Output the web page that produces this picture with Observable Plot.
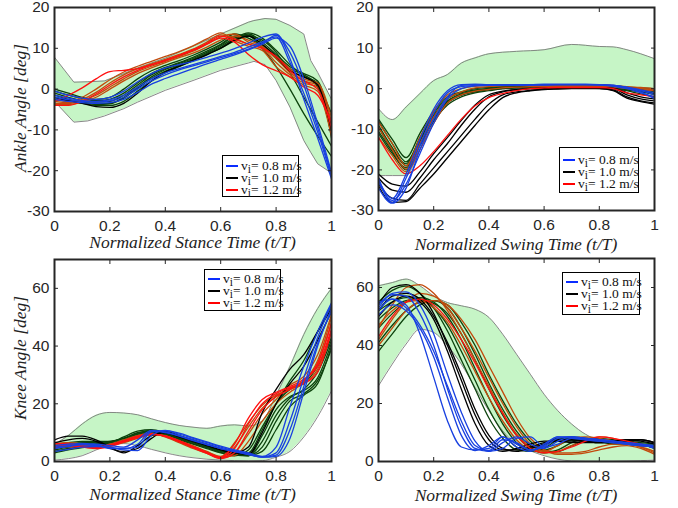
<!DOCTYPE html>
<html><head><meta charset="utf-8">
<script src="https://cdn.jsdelivr.net/npm/d3@7"></script>
<script src="https://cdn.jsdelivr.net/npm/@observablehq/plot@0.6"></script>
<style>
body{margin:0;background:#fff;}
#wrap{position:relative;width:678px;height:508px;overflow:hidden;background:#fff;}
.pl{position:absolute;}
.lg{position:absolute;box-sizing:border-box;border:1px solid #000;background:#fff;font-family:"Liberation Serif","Times New Roman",serif;font-size:13.5px;color:#111;}
.row{display:flex;align-items:center;height:12px;white-space:nowrap;}
.sw{width:12px;height:2.5px;margin-left:3px;margin-right:3px;flex:none;}
.row sub{font-size:85%;vertical-align:-3px;line-height:0;}
.ttl{position:absolute;white-space:nowrap;font-family:"Liberation Serif","Times New Roman",serif;font-style:italic;font-size:17.5px;color:#222;line-height:0.9;}
</style></head><body><div id="wrap"></div>
<script>
// ---------- data ----------
const T = [0,0.05,0.1,0.15,0.2,0.25,0.3,0.35,0.4,0.45,0.5,0.55,0.6,0.65,0.7,0.75,0.8,0.85,0.9,0.95,1];
const xTicks = [0,0.2,0.4,0.6,0.8,1];
const ankleTicks = [-30,-20,-10,0,10,20];
const kneeTicks = [0,20,40,60];
const legendSpeeds = ["0.8","1.0","1.2"];
const legendColors = ["#0a2cff","#000000","#ff0000"];

// Panel A: ankle, stance
const A_bandX = [0,0.07,0.12,0.18,0.25,0.3,0.4,0.5,0.6,0.7,0.72,0.76,0.8,0.85,0.9,0.925,0.95,1];
const A_hi = [7.8,1.7,1.8,2.0,3.8,5.2,7.6,10.5,13.5,16.4,16.8,17.3,17.1,15.6,13.5,7.0,4.1,-2.5];
const A_lo = [-3.0,-8.1,-7.8,-6.6,-4.8,-3.2,-0.3,2.1,4.6,6.4,6.8,6.0,2.1,-4.4,-12.6,-15.5,-18.3,-20.6];
const A_blue = [
 [-1.5,-2.2,-2.8,-3.0,-2.6,-1.5,0.5,2.5,4.0,5.0,6.0,7.0,8.0,9.0,10.3,11.6,12.8,6.5,-1.0,-10.5,-21.5],
 [-2.0,-2.6,-3.0,-3.2,-2.9,-2.0,0.0,2.0,3.5,4.7,5.7,6.7,7.7,8.7,9.8,11.2,13.2,9.0,1.0,-9.5,-21.0],
 [-2.5,-3.0,-3.3,-3.5,-3.3,-2.5,-0.8,1.2,2.6,3.8,5.0,6.2,7.3,8.4,9.6,11.0,12.5,10.5,2.5,-8.5,-20.5],
 [-0.5,-1.5,-2.2,-2.5,-2.0,-0.5,1.8,3.8,5.2,6.0,6.8,7.8,8.8,9.9,11.3,12.7,13.5,7.5,-2.5,-12.0,-22.0]
];
const A_green = [
 [-0.5,-1.5,-2.3,-2.8,-2.5,-1.0,1.5,3.8,5.3,6.5,7.8,9.3,11.0,13.0,13.2,10.8,8.0,5.0,3.5,1.0,-6.0],
 [-1.5,-2.5,-3.2,-3.6,-3.5,-2.0,0.5,3.0,4.8,6.0,7.2,8.6,10.2,12.2,13.5,11.5,8.5,5.5,3.8,2.0,-9.0],
 [-1.0,-2.0,-2.8,-3.2,-3.0,-1.5,1.0,3.5,5.0,6.3,7.5,9.0,10.8,12.8,13.0,10.0,5.5,0.0,-6.0,-11.5,-16.5],
 [-2.5,-3.0,-3.5,-4.0,-4.0,-3.0,-0.5,2.0,4.0,5.5,7.0,8.5,10.0,11.8,13.0,12.0,9.0,4.0,-2.0,-8.0,-14.0],
 [0.0,-1.0,-2.0,-2.5,-2.0,0.0,2.5,4.5,5.8,7.0,8.3,9.8,11.5,13.5,12.5,10.5,7.5,4.5,3.0,1.5,-12.0],
 [-2.0,-2.8,-3.4,-3.8,-3.6,-2.2,0.2,2.6,4.4,5.8,7.2,8.8,10.5,12.5,13.8,12.5,9.5,6.0,3.2,0.5,-11.0]
];
const A_orange = [
 [-3.0,-3.3,-2.5,-0.8,1.5,3.5,5.0,6.2,7.3,8.5,9.8,11.5,13.3,12.5,11.0,10.0,6.5,3.5,1.5,0.5,-8.0],
 [-3.5,-3.5,-2.8,-1.5,0.5,2.5,4.3,5.6,6.8,8.0,9.3,11.0,12.8,13.5,11.5,10.3,7.5,4.0,2.0,1.0,-10.0],
 [-2.5,-3.0,-2.0,0.0,2.3,4.2,5.6,6.8,8.0,9.2,10.6,12.3,13.8,11.8,10.5,9.5,5.5,3.0,1.0,-0.5,-11.5],
 [-3.8,-3.8,-3.2,-2.0,0.0,2.0,3.8,5.2,6.5,7.7,8.8,10.3,12.0,13.0,12.0,10.5,8.0,5.0,2.5,1.5,-7.0]
];
const A_red = [
 [-3.0,-1.5,0.3,2.5,4.3,4.6,5.0,6.0,7.0,8.2,9.5,11.0,12.5,11.5,8.5,6.0,4.5,3.0,0.5,-1.5,-8.0],
 [-4.0,-4.0,-3.0,-1.2,1.0,3.0,4.6,5.9,7.1,8.3,9.6,11.2,13.0,12.2,11.0,10.0,8.0,4.5,2.0,0.0,-9.5]
];
const A_black = [
 [-2.0,-2.8,-3.5,-4.3,-4.5,-3.5,-1.0,2.0,4.2,5.6,7.0,8.4,10.0,12.0,13.0,11.0,8.0,4.5,3.0,1.0,-10.0]
];

// Panel B: ankle, swing
const B_bandX = [0,0.05,0.1,0.15,0.2,0.25,0.3,0.35,0.4,0.5,0.6,0.7,0.8,0.85,0.9,1];
const B_hi = [-4.9,-7.6,-4.5,-1.2,2.0,3.5,6.3,7.6,8.6,9.2,9.6,10.9,10.4,10.3,9.6,7.4];
const B_lo = [-21.4,-21.4,-21.4,-15.0,-8.6,-3.7,-1.6,-0.8,-0.3,0.0,0.2,0.2,0.0,-0.3,-0.5,0.0];
const B_blue = [
 [-22.0,-28.0,-22.0,-14.0,-6.0,-1.0,0.5,0.8,0.9,0.9,0.9,0.9,1.0,1.0,1.0,1.0,1.0,0.8,0.3,-0.5,-1.5],
 [-23.0,-27.5,-23.5,-16.0,-8.5,-2.5,0.0,0.7,0.8,0.8,0.8,0.9,0.9,1.0,1.0,1.0,0.9,0.6,0.0,-1.0,-2.0],
 [-24.5,-28.2,-24.5,-15.0,-7.5,-2.0,0.8,1.0,1.0,1.0,1.0,1.0,1.0,1.0,1.0,1.0,1.0,0.9,0.2,-0.8,-2.5],
 [-22.5,-27.0,-21.0,-12.5,-5.0,-0.5,1.0,1.1,1.0,1.0,1.0,1.0,1.1,1.1,1.1,1.1,1.0,0.7,0.4,-0.3,-1.0]
];
const B_green = [
 [-8.0,-13.5,-18.0,-12.5,-6.5,-3.0,-1.3,-0.5,0.0,0.3,0.5,0.6,0.7,0.7,0.8,0.8,0.8,0.5,0.2,-0.2,-0.8],
 [-9.0,-14.5,-19.0,-13.5,-7.5,-3.5,-1.6,-0.8,-0.3,0.1,0.3,0.4,0.5,0.5,0.5,0.5,0.5,0.3,-0.3,-0.8,-1.5],
 [-10.5,-15.5,-20.0,-14.0,-8.0,-4.0,-2.0,-1.0,-0.5,0.0,0.2,0.3,0.4,0.4,0.4,0.4,0.4,0.2,-0.2,-0.6,-1.0],
 [-7.5,-12.5,-17.0,-11.0,-5.5,-2.0,-0.8,0.0,0.3,0.5,0.6,0.7,0.8,0.8,0.9,0.9,0.9,0.7,0.4,0.2,0.0],
 [-11.0,-16.0,-19.5,-13.0,-7.0,-3.2,-1.5,-0.6,-0.1,0.2,0.4,0.5,0.6,0.6,0.6,0.6,0.6,0.4,-0.5,-1.3,-2.0],
 [-9.5,-15.0,-18.5,-12.0,-6.0,-2.5,-1.0,-0.3,0.1,0.4,0.5,0.6,0.7,0.7,0.7,0.7,0.7,0.5,0.0,-0.5,-1.2]
];
const B_orange = [
 [-8.2,-13.5,-19.0,-12.0,-5.5,-1.5,0.0,0.6,0.8,0.9,0.9,0.9,1.0,1.0,1.0,1.0,1.0,0.8,0.5,0.3,0.0],
 [-12.0,-16.5,-20.5,-15.0,-8.5,-3.5,-1.5,-0.6,-0.2,0.2,0.4,0.5,0.6,0.6,0.6,0.6,0.6,0.4,0.0,-0.3,-0.5],
 [-9.5,-15.0,-19.8,-13.5,-7.0,-2.5,-0.8,0.2,0.5,0.7,0.8,0.8,0.9,0.9,0.9,0.9,0.9,0.7,0.3,0.0,-0.3]
];
const B_red = [
 [-12.0,-17.5,-21.0,-19.0,-15.5,-11.5,-7.5,-4.2,-2.2,-1.2,-0.5,0.0,0.2,0.3,0.3,0.3,0.3,0.0,-1.0,-1.5,-2.0]
];
const B_black = [
 [-22.0,-25.0,-25.5,-22.0,-17.5,-13.5,-9.0,-5.0,-2.0,-0.8,-0.3,0.0,0.1,0.2,0.2,0.2,0.2,0.0,-1.5,-2.5,-3.0],
 [-23.5,-27.0,-27.5,-23.5,-19.5,-15.5,-11.5,-7.5,-3.8,-1.5,-0.8,-0.4,-0.1,0.0,0.1,0.1,0.1,-0.3,-2.0,-3.0,-3.5],
 [-24.0,-28.0,-27.8,-24.5,-21.0,-17.0,-13.0,-9.0,-5.2,-2.2,-1.0,-0.5,-0.2,-0.1,0.0,0.0,0.0,-0.5,-2.3,-3.2,-3.8],
 [-21.0,-23.5,-24.0,-20.5,-16.0,-12.0,-7.8,-4.0,-1.5,-0.6,-0.2,0.0,0.1,0.2,0.2,0.2,0.2,0.1,-1.0,-2.0,-2.5]
];

// Panel C: knee, stance
const C_bandX = T;
const C_hi = [6.0,9.0,13.0,16.0,17.0,16.8,16.2,14.8,13.5,12.5,11.9,11.5,12.3,12.7,12.3,14.0,23.0,33.0,44.0,53.0,60.0];
const C_lo = [0.5,1.0,2.0,4.0,5.8,6.2,5.5,4.2,3.0,2.0,1.3,0.8,0.5,0.3,0.2,0.3,1.5,3.5,8.5,15.5,24.5];
const C_blue = [
 [4.5,5.2,5.8,5.5,4.8,4.5,5.0,10.3,10.6,9.5,8.0,6.5,5.0,3.8,2.8,1.8,5.0,19.0,33.0,45.0,55.0],
 [5.5,6.0,6.3,6.0,5.5,5.0,7.5,10.8,10.2,9.0,7.5,6.0,4.5,3.4,2.4,1.5,1.8,8.0,24.0,40.0,53.0],
 [3.5,4.2,5.0,5.2,5.0,4.0,3.8,9.0,10.8,9.8,8.3,6.8,5.3,4.0,3.0,1.6,3.0,14.0,29.0,43.0,54.5],
 [5.0,5.5,6.0,5.8,4.5,4.5,6.0,10.5,10.0,8.8,7.2,5.8,4.5,3.5,2.5,1.5,2.2,11.0,26.0,41.0,52.0]
];
const C_green = [
 [4.0,5.0,5.5,6.0,6.5,7.5,9.5,10.5,9.5,8.0,6.5,5.0,3.5,2.5,2.0,9.0,18.0,22.5,24.5,29.0,41.0],
 [3.0,4.0,4.8,5.5,6.5,8.5,10.5,11.0,10.0,8.5,7.0,5.5,4.0,2.8,2.2,5.0,14.0,21.0,23.5,28.0,39.0],
 [5.5,6.0,6.5,6.5,6.0,7.0,9.0,10.0,9.0,7.5,6.0,4.5,3.0,2.0,4.0,12.0,20.0,25.0,27.0,33.0,43.0],
 [4.5,5.5,6.0,6.5,7.0,8.0,10.0,10.5,9.8,8.2,6.8,5.2,3.8,2.8,3.0,11.0,20.0,28.0,35.0,45.0,54.0],
 [6.0,6.5,7.0,7.0,7.0,8.0,9.5,10.2,9.2,7.8,6.2,4.8,3.2,2.2,2.0,7.0,16.0,22.0,25.0,31.0,42.0],
 [3.5,4.5,5.2,6.0,6.8,8.0,9.8,10.8,9.8,8.3,6.8,5.3,3.8,2.6,2.1,3.5,11.0,19.0,23.0,27.0,40.0]
];
const C_orange = [
 [5.5,6.0,6.0,5.5,5.8,7.0,8.5,9.5,9.0,7.0,5.0,3.2,1.5,5.0,12.0,18.5,22.5,25.5,28.0,34.0,48.0],
 [6.0,6.5,6.0,5.2,6.0,7.5,9.0,9.8,8.5,6.5,4.5,2.8,1.3,3.0,9.5,16.5,21.5,26.5,29.5,37.0,51.0],
 [4.8,5.5,5.5,5.0,5.5,6.5,8.0,9.2,8.8,7.2,5.5,3.5,1.8,6.5,13.5,19.5,23.0,25.0,27.0,32.0,45.0],
 [5.2,5.8,5.8,5.3,5.6,6.8,8.3,9.4,8.9,7.1,5.2,3.3,1.5,2.0,7.0,14.0,20.0,24.0,27.5,35.0,50.0]
];
const C_red = [
 [5.5,5.5,5.0,4.8,5.5,7.0,8.5,9.5,8.8,7.0,5.0,3.0,1.2,4.5,13.0,20.0,23.5,25.5,27.0,31.0,45.0],
 [6.2,6.2,5.5,5.0,5.8,7.2,8.8,9.6,8.6,6.8,4.8,2.8,1.0,3.0,10.5,18.0,22.5,25.0,28.0,34.0,48.0],
 [5.0,5.2,5.0,4.5,5.2,6.8,8.2,9.3,8.9,7.2,5.2,3.2,1.5,6.0,15.0,21.5,24.0,26.0,28.5,33.0,46.0]
];
const C_black = [
 [7.5,8.8,8.8,7.5,5.0,3.0,5.5,9.0,10.0,8.5,7.0,5.5,4.0,3.0,5.0,17.0,25.0,32.0,37.0,45.0,53.0],
 [6.5,7.5,8.0,7.0,4.5,3.5,4.5,8.0,10.5,9.0,7.5,6.0,4.5,3.0,2.5,10.0,20.0,27.0,33.0,42.0,52.0]
];

// Panel D: knee, swing
const D_bandX = T;
const D_hi = [60.6,61.7,62.9,60.6,57.1,54.8,53.7,52.5,49.7,43.9,37.0,30.1,23.2,17.5,12.9,9.4,7.5,7.3,7.1,6.8,6.5];
const D_lo = [26.1,33.6,40.5,45.6,44.5,39.9,33.6,25.5,17.5,10.6,6.0,3.7,2.0,0.8,0.2,0.1,0.1,0.1,0.2,0.3,0.5];
const D_blue = [
 [52,56,54,44,29,14,5,4,4.5,8.5,6,4,5.5,8.5,8.5,7.5,7,6.5,6,5.5,5],
 [54,57.5,57,51,40,25,12,4.5,3.5,6.5,8.5,6,4.5,7,8.5,8,7.5,7,6,5.5,5.5],
 [50.5,54,52,46,36,22,9,3.8,5.5,8.5,5,3.5,6,8.5,8,7.5,7,6.5,6,5.5,5],
 [53,58,58.5,54,44,30,17,7,3.5,4.5,8,8.5,5,6,8,8,7.5,7,6.5,6,4.5],
 [55,56,53,47,38,26,14,5.5,3.8,7.5,6.5,4,5,8,8.5,8,7.5,7,6.5,6,5.5]
];
const D_green = [
 [41,47,52,55,55.5,53,46,37,27,18,10.5,5.5,4,5.5,7.5,7.5,7,6.5,6.5,6,5.5],
 [46,51,55,56.5,55,50,42,32,22,13,6.5,3.5,4.5,7.5,8.5,8,7.5,7,7,6.5,6],
 [52,55,56.5,56,53,47,38,28,18,10,5,3.5,5.5,8,8,7.5,7,6,6,5.5,5],
 [38,44,50,54,55.5,54,48,40,30,21,13,7,3.5,3.5,5.5,7,7,7,6.5,6,4.5],
 [55,59,60.5,58,53,45,35,25,15,8,4,3.5,6,8,7.5,7,6.5,6.5,6,5.5,5],
 [49,53,55.5,56,54.5,51,44,35,25,16,9,4.5,3,4,6.5,8,8,7.5,7,6,5.5]
];
const D_orange = [
 [42,49,55,58,57,53,46,38,29,20,12,6,3.5,3,3,3.5,5,6,6,5,3.5],
 [46,54,60,61,58,52,44,35,26,17,9.5,5,3,3.5,5.5,7.5,8.5,8,6.5,5,3],
 [40,46,52,55,55.5,54,49,42,33,24,15,8,4,2.5,2.5,3,4,5,5.5,4.5,2.5],
 [47,52,55,55.5,53,48,40,31,22,14,7.5,4,3.5,5.5,8,8.5,8,7,6,5.5,5]
];
const D_red = [
 [43,50,55,56,54,49,42,34,25,16.5,9,4.5,3,3.5,5,7,8.5,8,7,6,5]
];
const D_black = [
 [54,60,61,58,51,40,28,16,7.5,4,4,5,6.5,7.5,7.5,7,6.5,6.5,7,7.5,6.5],
 [50,55,57,55,49,38,25,13,5.5,3.5,4.5,6,7,7,6.5,6.5,6.5,7,7.5,7.5,6.5],
 [52,57,58,56,50,41,30,18,9,4.5,3.5,4.5,6,7,7,7,7,7,7.5,7,6]
];

// ---------- styling ----------
const COL = {blue:"#1840e0", green:"#0c420c", orange:"#c24a0c", red:"#ff1010", black:"#000000"};
const BAND_FILL = "#c6f5c6", BAND_EDGE = "#7a7a7a";

function makePanel(cfg) {
  const band = cfg.bandX.map((t,i) => ({t, lo: cfg.lo[i], hi: cfg.hi[i]}));
  const marks = [
    Plot.areaY(band, {x:"t", y1:"lo", y2:"hi", fill:BAND_FILL, curve:cfg.bandCurve}),
    Plot.line(band, {x:"t", y:"hi", stroke:BAND_EDGE, strokeWidth:0.9, curve:cfg.bandCurve}),
    Plot.line(band, {x:"t", y:"lo", stroke:BAND_EDGE, strokeWidth:0.9, curve:cfg.bandCurve})
  ];
  for (const g of cfg.groups) {
    const rows = [];
    g.curves.forEach((c,k) => c.forEach((v,i) => rows.push({t:T[i], v, id:k})));
    marks.push(Plot.line(rows, {x:"t", y:"v", z:"id", stroke:g.color, strokeWidth:1.3, curve:"monotone-x", clip:true}));
  }
  marks.push(
    Plot.frame({stroke:"#262626", strokeWidth:2}),
    Plot.axisX({ticks:xTicks, tickSize:-4, tickPadding:12, tickFormat:d=>String(d), label:null, fill:"#262626", stroke:"#262626"}),
    Plot.axisX({anchor:"top", ticks:xTicks, tickSize:-4, tickFormat:()=>"", label:null, stroke:"#262626"}),
    Plot.axisY({ticks:cfg.yTicks, tickSize:-4, tickPadding:9, tickFormat:d=>String(d), label:null, fill:"#262626", stroke:"#262626"}),
    Plot.axisY({anchor:"right", ticks:cfg.yTicks, tickSize:-4, tickFormat:()=>"", label:null, stroke:"#262626"})
  );
  return Plot.plot({
    width:cfg.width, height:cfg.height,
    marginLeft:cfg.ml, marginRight:cfg.mr, marginTop:cfg.mt, marginBottom:cfg.mb,
    x:{domain:[0,1], label:null},
    y:{domain:cfg.yDomain, label:null},
    style:{fontFamily:"'Liberation Sans', Arial, sans-serif", fontSize:"15.5px", background:"transparent", overflow:"visible"},
    marks
  });
}

const groupsOf = (g,o,k,r,b) => [
  {color:COL.green, curves:g}, {color:COL.orange, curves:o}, {color:COL.black, curves:k},
  {color:COL.red, curves:r}, {color:COL.blue, curves:b}
];

const panels = [
  {left:0, top:0, width:340, height:254, ml:54, mr:9, mt:7, mb:43, yDomain:[-30,20], yTicks:ankleTicks,
   bandX:A_bandX, lo:A_lo, hi:A_hi, bandCurve:"linear", groups:groupsOf(A_green,A_orange,A_black,A_red,A_blue)},
  {left:340, top:0, width:338, height:254, ml:38, mr:24, mt:7, mb:44, yDomain:[-30,20], yTicks:ankleTicks,
   bandX:B_bandX, lo:B_lo, hi:B_hi, bandCurve:"monotone-x", groups:groupsOf(B_green,B_orange,B_black,B_red,B_blue)},
  {left:0, top:254, width:340, height:254, ml:54, mr:9, mt:5, mb:47, yDomain:[0,70], yTicks:kneeTicks,
   bandX:C_bandX, lo:C_lo, hi:C_hi, bandCurve:"monotone-x", groups:groupsOf(C_green,C_orange,C_black,C_red,C_blue)},
  {left:340, top:254, width:338, height:254, ml:38, mr:24, mt:4, mb:47, yDomain:[0,70], yTicks:kneeTicks,
   bandX:D_bandX, lo:D_lo, hi:D_hi, bandCurve:"monotone-x", groups:groupsOf(D_green,D_orange,D_black,D_red,D_blue)}
];
// axis titles (page positions of their centres)
const titles = [
  {text:"Normalized Stance Time (t/T)", cx:192.5, cy:242.5, rot:0},
  {text:"Normalized Swing Time (t/T)", cx:516, cy:245, rot:0},
  {text:"Normalized Stance Time (t/T)", cx:192.5, cy:494.5, rot:0},
  {text:"Normalized Swing Time (t/T)", cx:516, cy:495.5, rot:0},
  {text:"Ankle Angle [deg]", cx:21, cy:108, rot:-90},
  {text:"Knee Angle [deg]", cx:21, cy:358, rot:-90}
];
const legends = [
  {left:222, top:155, width:77, height:42, padTop:4},
  {left:559, top:147, width:80, height:46, padTop:6},
  {left:204, top:269, width:77, height:42, padTop:3},
  {left:562, top:272, width:78, height:43, padTop:3}
];

const wrap = document.getElementById("wrap");
panels.forEach(p => {
  const box = document.createElement("div");
  box.className = "pl";
  box.style.left = p.left + "px"; box.style.top = p.top + "px";
  box.appendChild(makePanel(p));
  wrap.appendChild(box);
});
titles.forEach(t => {
  const d = document.createElement("div");
  d.className = "ttl";
  d.textContent = t.text;
  d.style.left = t.cx + "px"; d.style.top = t.cy + "px";
  d.style.transform = `translate(-50%,-50%) rotate(${t.rot}deg)`;
  wrap.appendChild(d);
});
legends.forEach(L => {
  const d = document.createElement("div");
  d.className = "lg";
  Object.assign(d.style, {left:L.left+"px", top:L.top+"px", width:L.width+"px", height:L.height+"px", paddingTop:L.padTop+"px"});
  legendSpeeds.forEach((s,i) => {
    const r = document.createElement("div");
    r.className = "row";
    r.innerHTML = `<span class="sw" style="background:${legendColors[i]}"></span><span>v<sub>i</sub>= ${s} m/s</span>`;
    d.appendChild(r);
  });
  wrap.appendChild(d);
});
</script></body></html>
